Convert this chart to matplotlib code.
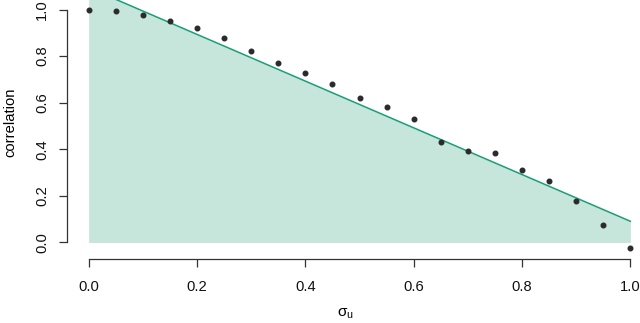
import matplotlib
matplotlib.use("Agg")
import matplotlib.pyplot as plt
import numpy as np

plt.rcParams['font.family'] = ['Liberation Sans', 'DejaVu Sans']
plt.rcParams['mathtext.fontset'] = 'custom'
plt.rcParams['mathtext.rm'] = 'Liberation Sans'

sigma_u = [0.00, 0.05, 0.10, 0.15, 0.20, 0.25, 0.30, 0.35, 0.40, 0.45, 0.50,
           0.55, 0.60, 0.65, 0.70, 0.75, 0.80, 0.85, 0.90, 0.95, 1.00]
corr = [1.000, 0.993, 0.977, 0.950, 0.919, 0.877, 0.822, 0.772, 0.726, 0.682, 0.620,
        0.583, 0.531, 0.433, 0.394, 0.383, 0.309, 0.264, 0.179, 0.074, -0.024]
line_intercept = 1.094
line_slope = -1.003
xticks = [0.0, 0.2, 0.4, 0.6, 0.8, 1.0]
yticks = [0.0, 0.2, 0.4, 0.6, 0.8, 1.0]

W, H = 640, 323
fig = plt.figure(figsize=(W / 100, H / 100), dpi=100)
ax = fig.add_axes([67 / W, (H - 259) / H, 585 / W, 259 / H])

xs = np.array([0.0, 1.0])
ys = line_intercept + line_slope * xs
ax.fill_between(xs, 0, ys, color='#c6e5db', linewidth=0, zorder=1)
ax.plot(xs, ys, color='#1b9e77', linewidth=1.1, zorder=2)
ax.plot(sigma_u, corr, 'o', color='#2b2b2b', markersize=3.3, zorder=3)

ax.set_xlim(-0.04, 1.04)
ax.set_ylim(-0.071, 1.041)

for s in ['top', 'right']:
    ax.spines[s].set_visible(False)
ax.spines['left'].set_bounds(0, 1)
ax.spines['bottom'].set_bounds(0, 1)
for s in ['left', 'bottom']:
    ax.spines[s].set_color('#333333')
    ax.spines[s].set_linewidth(0.9)

ax.set_xticks(xticks)
ax.set_xticklabels([f"{v:.1f}" for v in xticks])
ax.set_yticks(yticks)
ax.set_yticklabels([f"{v:.1f}" for v in yticks], rotation=90, va='center')
ax.tick_params(axis='both', direction='out', length=6, width=0.9, color='#333333',
               labelsize=10.6, labelcolor='#111111')
ax.tick_params(axis='x', pad=9)
ax.tick_params(axis='y', pad=7)

fig.text(345 / W, 1 - 314 / H, r'$\mathrm{σ_u}$', ha='center', va='center', fontsize=11)
fig.text(10 / W, 1 - 122 / H, 'correlation', rotation=90, ha='center', va='center', fontsize=10.6)

fig.savefig('out.png', dpi=100)
